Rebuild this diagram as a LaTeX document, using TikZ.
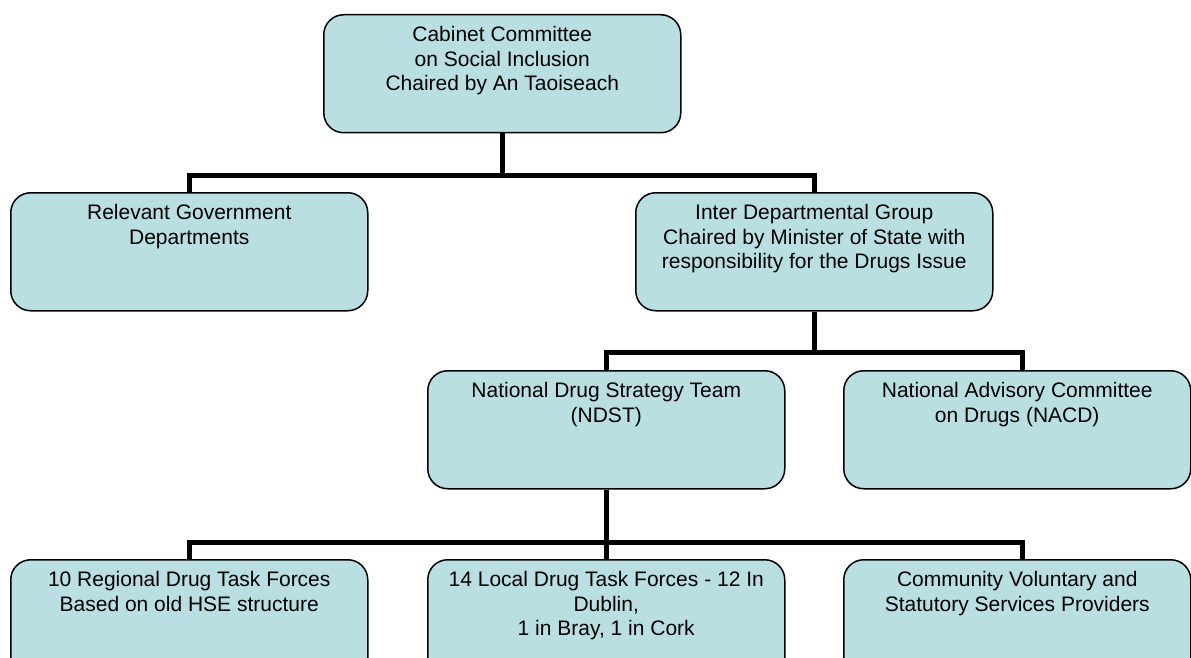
\documentclass[tikz,border=0pt]{standalone}
\usepackage{fontspec}
\setmainfont{Liberation Sans}
\usetikzlibrary{calc}
\definecolor{boxfill}{RGB}{186,223,227}
\tikzset{
  orgbox/.style={draw=black, line width=1.5pt, fill=boxfill, rounded corners=20pt,
    anchor=north west, inner sep=0pt, minimum width=357pt, minimum height=118pt},
  boxtext/.style={anchor=north, inner sep=0pt, align=center, yshift=-12.5pt,
    font=\fontsize{21}{24.5}\selectfont},
  conn/.style={draw=black, line width=5pt}
}
\begin{document}
\begin{tikzpicture}[x=1pt,y=-1pt]
\useasboundingbox (0,0) rectangle (1191,658);
\clip (0,0) rectangle (1191,658);
% boxes
\node[orgbox] (top) at (323,14) {};
\node[orgbox] (rgd) at (10,192) {};
\node[orgbox] (idg) at (635,192) {};
\node[orgbox] (ndst) at (427,370) {};
\node[orgbox, minimum width=347pt] (nacd) at (843,370) {};
\node[orgbox] (rdtf) at (10,559) {};
\node[orgbox] (ldtf) at (427,559) {};
\node[orgbox, minimum width=347pt] (cvs) at (843,559) {};
% texts
\node[boxtext] (topt) at (top.north) {Cabinet Committee\\on Social Inclusion\\Chaired by An Taoiseach};
\node[boxtext] (rgdt) at (rgd.north) {Relevant Government\\Departments};
\node[boxtext] (idgt) at (idg.north) {Inter Departmental Group\\Chaired by Minister of State with\\responsibility for the Drugs Issue};
\node[boxtext] (ndstt) at (ndst.north) {National Drug Strategy Team\\(NDST)};
\node[boxtext] (nacdt) at (nacd.north) {National Advisory Committee\\on Drugs (NACD)};
\node[boxtext] (rdtft) at (rdtf.north) {10 Regional Drug Task Forces\\Based on old HSE structure};
\node[boxtext] (ldtft) at (ldtf.north) {14 Local Drug Task Forces - 12 In\\Dublin,\\1 in Bray, 1 in Cork};
\node[boxtext] (cvst) at (cvs.north) {Community Voluntary and\\Statutory Services Providers};
% bus coordinates
\coordinate (b1) at (0,175);
\coordinate (b2) at (0,352);
\coordinate (b3) at (0,542);
\coordinate (nacdin) at ($(nacd.north)+(5,0)$);
\coordinate (cvsin) at ($(cvs.north)+(5,0)$);
% connectors
\draw[conn] (top.south) -- (top.south |- b1);
\draw[conn] (rgd.north) -- (rgd.north |- b1) -- (idg.north |- b1) -- (idg.north);
\draw[conn] (idg.south) -- (idg.south |- b2);
\draw[conn] (ndst.north) -- (ndst.north |- b2) -- (nacdin |- b2) -- (nacdin);
\draw[conn] (ndst.south) -- (ndst.south |- b3);
\draw[conn] (rdtf.north) -- (rdtf.north |- b3) -- (cvsin |- b3) -- (cvsin);
\draw[conn] (ldtf.north) -- (ldtf.north |- b3);
\end{tikzpicture}
\end{document}
